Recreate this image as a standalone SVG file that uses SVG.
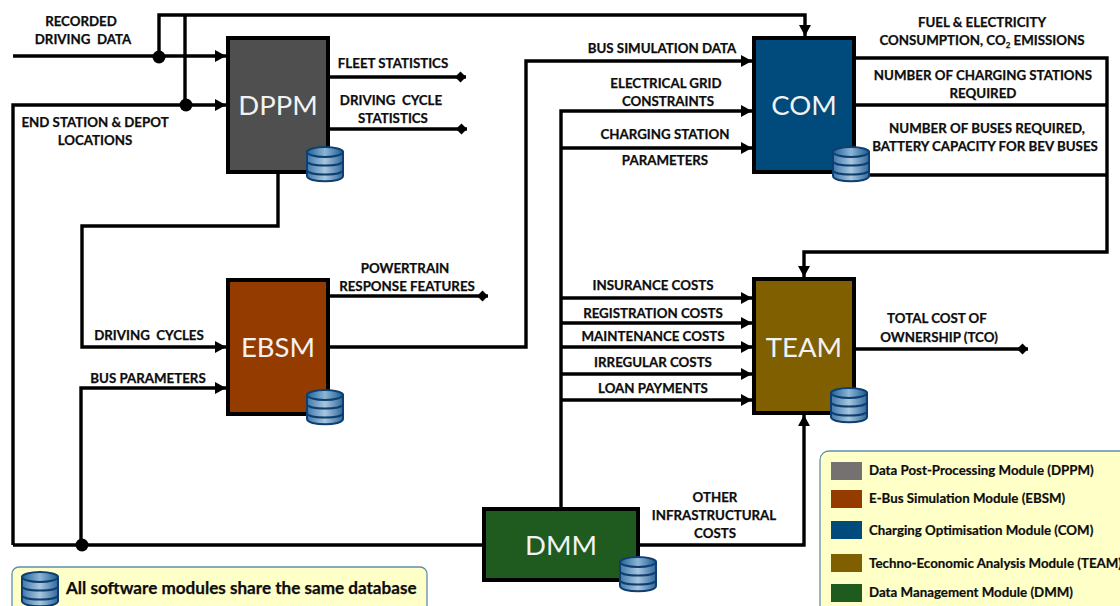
<svg xmlns="http://www.w3.org/2000/svg" width="1120" height="606" viewBox="0 0 1120 606">
<style>
text{font-family:"Lato","Open Sans","Liberation Sans",sans-serif;fill:#0d0d0d;white-space:pre}
.l{font-size:13.3px;font-weight:700;text-anchor:middle;stroke:#0d0d0d;stroke-width:.25}
.g{font-size:13.3px;font-weight:700;stroke:#0d0d0d;stroke-width:.2}
.t{font-size:17.1px;font-weight:700;stroke:#0d0d0d;stroke-width:.25}
.n{font-size:27.5px;fill:#f2f2f2;text-anchor:middle;font-weight:400}
.b{stroke:#000;stroke-width:4}
.c{fill:none;stroke:#000;stroke-width:3.4}
.d{fill:#000}
.p{fill:#ffffc8;stroke:#5f8fb0;stroke-width:1.3}
</style>
<defs>
<linearGradient id="dg" x1="0" y1="0" x2="1" y2="0"><stop offset="0" stop-color="#3f78ab"/><stop offset=".5" stop-color="#a9c6de"/><stop offset="1" stop-color="#2f689c"/></linearGradient>
<linearGradient id="dt" x1="0" y1="0" x2="1" y2="0"><stop offset="0" stop-color="#1d6299"/><stop offset=".5" stop-color="#8db5d5"/><stop offset="1" stop-color="#175a92"/></linearGradient>
<g id="db">
<path d="M0 6C0 1 36 1 36 6V30C36 37 0 37 0 30Z" fill="url(#dg)" stroke="#0f3f70" stroke-width="2"/>
<ellipse cx="18" cy="6" rx="18" ry="5" fill="url(#dt)" stroke="#0f3f70" stroke-width="2"/>
<path d="M0 15C0 21 36 21 36 15M0 24C0 30 36 30 36 24" fill="none" stroke="#0f3f70" stroke-width="2"/>
</g>
<marker id="a" markerUnits="userSpaceOnUse" markerWidth="12" markerHeight="14" refX="11" refY="7" orient="auto"><path d="M0 1L11 7L0 13Z" fill="#000"/></marker>
<marker id="m" markerUnits="userSpaceOnUse" markerWidth="12" markerHeight="12" refX="11" refY="6" orient="auto"><path d="M0 6L5.5 .5L11 6L5.5 11.5Z" fill="#000"/></marker>
</defs>
<rect width="1120" height="606" fill="#fff"/>
<g id="connectors">
<path class="c" d="M13 56H226" marker-end="url(#a)"/>
<path class="c" d="M159 56V15H805V36" marker-end="url(#a)"/>
<path class="c" d="M185 15V105"/>
<path class="c" d="M13 545V105H226" marker-end="url(#a)"/>
<path class="c" d="M13 545H482"/>
<path class="c" d="M81 545V388H226" marker-end="url(#a)"/>
<path class="c" d="M278 174V226H82V347H226" marker-end="url(#a)"/>
<path class="c" d="M330 347H526V61H752" marker-end="url(#a)"/>
<path class="c" d="M330 77H466" marker-end="url(#m)"/>
<path class="c" d="M330 129H467" marker-end="url(#m)"/>
<path class="c" d="M330 296H488" marker-end="url(#m)"/>
<path class="c" d="M561 507V111H752" marker-end="url(#a)"/>
<path class="c" d="M561 148H752" marker-end="url(#a)"/>
<path class="c" d="M561 298H752" marker-end="url(#a)"/>
<path class="c" d="M561 323H752" marker-end="url(#a)"/>
<path class="c" d="M561 347H752" marker-end="url(#a)"/>
<path class="c" d="M561 374H752" marker-end="url(#a)"/>
<path class="c" d="M561 400H752" marker-end="url(#a)"/>
<path class="c" d="M640 545H804V415" marker-end="url(#a)"/>
<path class="c" d="M856 58H1107V252H804V277" marker-end="url(#a)"/>
<path class="c" d="M856 105H1107"/>
<path class="c" d="M860 175H1107"/>
<path class="c" d="M856 349H1028" marker-end="url(#m)"/>
<circle class="d" cx="159" cy="57" r="6.5"/>
<circle class="d" cx="186" cy="105" r="6.5"/>
<circle class="d" cx="82" cy="545" r="6.5"/>
</g>
<g id="labels">
<text class="l" x="81" y="26">RECORDED</text>
<text class="l" x="83" y="44">DRIVING  DATA</text>
<text class="l" x="95" y="127">END STATION &amp; DEPOT</text>
<text class="l" x="95" y="145">LOCATIONS</text>
<text class="l" x="393" y="68">FLEET STATISTICS</text>
<text class="l" x="391" y="105">DRIVING  CYCLE</text>
<text class="l" x="393" y="123">STATISTICS</text>
<text class="l" x="405" y="273">POWERTRAIN</text>
<text class="l" x="407" y="291">RESPONSE FEATURES</text>
<text class="l" x="149" y="340">DRIVING  CYCLES</text>
<text class="l" x="148" y="383">BUS PARAMETERS</text>
<text class="l" x="662" y="53">BUS SIMULATION DATA</text>
<text class="l" x="666" y="88">ELECTRICAL GRID</text>
<text class="l" x="668" y="106">CONSTRAINTS</text>
<text class="l" x="665" y="139">CHARGING STATION</text>
<text class="l" x="665" y="165">PARAMETERS</text>
<text class="l" x="653" y="290">INSURANCE COSTS</text>
<text class="l" x="653" y="318">REGISTRATION COSTS</text>
<text class="l" x="653" y="341">MAINTENANCE COSTS</text>
<text class="l" x="653" y="367">IRREGULAR COSTS</text>
<text class="l" x="653" y="393">LOAN PAYMENTS</text>
<text class="l" x="715" y="502">OTHER</text>
<text class="l" x="714" y="520">INFRASTRUCTURAL</text>
<text class="l" x="715" y="538">COSTS</text>
<text class="l" x="982" y="27">FUEL &amp; ELECTRICITY</text>
<text class="l" x="982" y="45">CONSUMPTION, CO<tspan font-size="8" dy="3">2</tspan><tspan dy="-3"> EMISSIONS</tspan></text>
<text class="l" x="983" y="80">NUMBER OF CHARGING STATIONS</text>
<text class="l" x="983" y="98">REQUIRED</text>
<text class="l" x="987" y="133">NUMBER OF BUSES REQUIRED,</text>
<text class="l" x="985" y="151">BATTERY CAPACITY FOR BEV BUSES</text>
<text class="l" x="937" y="323">TOTAL COST OF</text>
<text class="l" x="939" y="342">OWNERSHIP (TCO)</text>
</g>
<g id="DPPM"><rect class="b" x="228" y="38" width="100" height="134" fill="#4f4f4f"/><text class="n" x="278" y="115">DPPM</text><use href="#db" x="307" y="146"/></g>
<g id="EBSM"><rect class="b" x="228" y="280" width="100" height="134" fill="#943c00"/><text class="n" x="278" y="357">EBSM</text><use href="#db" x="307" y="389"/></g>
<g id="COM"><rect class="b" x="754" y="38" width="100" height="134" fill="#004a7c"/><text class="n" x="804" y="115">COM</text><use href="#db" x="833" y="146"/></g>
<g id="TEAM"><rect class="b" x="754" y="279" width="100" height="134" fill="#7f5f00"/><text class="n" x="804" y="357">TEAM</text><use href="#db" x="831" y="387"/></g>
<g id="DMM"><rect class="b" x="484" y="509" width="154" height="71" fill="#1f5a1e"/><text class="n" x="561" y="555">DMM</text><use href="#db" x="620" y="556"/></g>
<g id="note"><rect class="p" x="12" y="567" width="415" height="50" rx="7"/><use href="#db" x="22" y="571"/><text class="t" x="66" y="594">All software modules share the same database</text></g>
<g id="legend"><rect class="p" x="820" y="451" width="320" height="170" rx="9"/>
<rect x="831" y="462" width="31" height="18" fill="#767171"/><text class="g" x="869" y="475">Data Post-Processing Module (DPPM)</text>
<rect x="831" y="490" width="31" height="18" fill="#943c00"/><text class="g" x="869" y="503">E-Bus Simulation Module (EBSM)</text>
<rect x="831" y="521" width="31" height="18" fill="#004a7c"/><text class="g" x="869" y="535">Charging Optimisation Module (COM)</text>
<rect x="831" y="554" width="31" height="18" fill="#7f5f00"/><text class="g" x="869" y="568">Techno-Economic Analysis Module (TEAM)</text>
<rect x="831" y="584" width="31" height="18" fill="#1f5a1e"/><text class="g" x="869" y="597">Data Management Module (DMM)</text>
</g>
</svg>
